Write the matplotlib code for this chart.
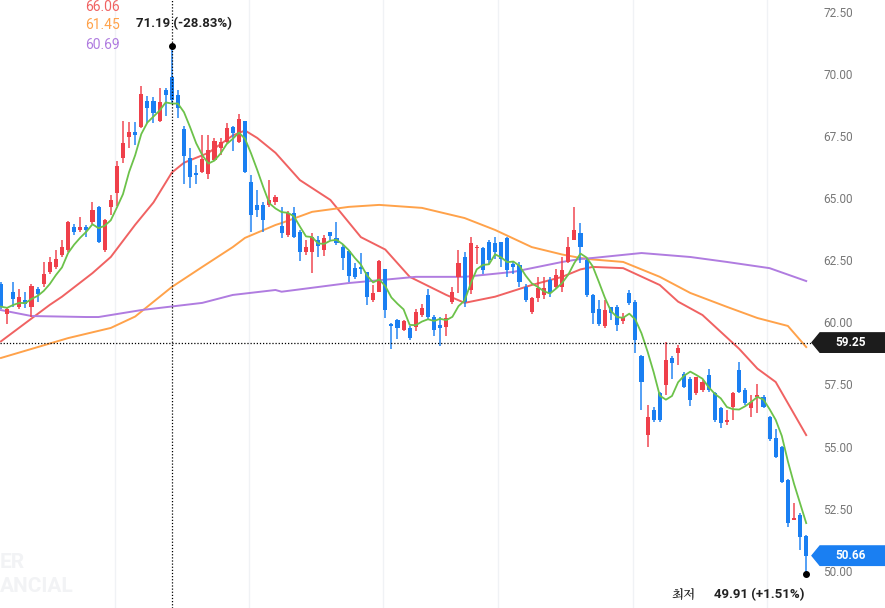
import matplotlib
matplotlib.use("Agg")
import matplotlib.pyplot as plt
from matplotlib import font_manager as fm
import numpy as np
import pandas as pd

plt.rcParams["font.family"] = ["Roboto", "DejaVu Sans"]

def korean_font():
    for f in fm.fontManager.ttflist:
        if "CJK" in f.name and ("KR" in f.name or "SC" in f.name or "JP" in f.name):
            return fm.FontProperties(fname=f.fname, size=9)
    for path in fm.findSystemFonts():
        if "CJK" in path:
            return fm.FontProperties(fname=path, size=9)
    return fm.FontProperties(family="Noto Sans CJK KR", size=9)

opens = [61.6,60.4,61.3,60.7,60.95,60.7,61.4,61.6,62.1,62.3,62.8,63.0,63.9,63.8,63.9,64.1,64.7,62.98,64.7,65.27,66.7,67.55,67.75,
         67.95,69.0,69.0,68.2,69.45,69.97,69.25,67.85,66.7,66.1,66.14,66.05,66.6,67.1,67.35,67.95,67.35,68.2,65.73,64.8,64.8,64.8,
         64.9,63.95,63.6,64.46,63.72,62.9,62.92,63.4,62.98,63.7,63.45,63.1,62.95,62.25,62.3,62.08,60.97,61.3,62.2,
         60.0,60.16,59.76,59.83,59.89,60.36,61.17,60.3,59.95,59.89,60.9,61.9,62.71,61.37,63.05,63.05,63.32,63.25,63.3,63.45,62.4,62.38,61.5,60.5,61.04,61.17,61.77,61.5,61.5,62.51,63.39,63.66,
         62.58,61.17,60.6,59.9,60.7,60.7,60.1,61.24,60.9,58.69,55.52,56.53,57.2,57.54,58.62,58.82,58.0,57.8,57.2,57.34,57.94,57.2,56.6,56.06,56.67,58.13,57.34,56.6,57.07,57.07,56.23,55.4,55.05,53.73,52.1,52.3,51.47]
closes = [60.7,60.6,61.0,61.1,60.8,61.55,61.2,62.0,62.5,62.6,63.1,64.1,63.7,63.9,63.8,64.6,63.3,64.2,65.0,66.37,67.3,67.75,67.6,
          69.26,68.7,68.5,68.95,69.25,69.03,68.7,66.76,65.93,66.0,66.64,67.0,67.37,67.35,67.9,67.7,68.25,66.14,64.38,64.6,64.2,65.0,
          65.1,63.65,64.46,63.52,62.92,63.1,63.52,63.15,63.47,63.55,63.28,62.65,61.94,61.9,62.2,61.1,61.23,62.55,60.56,
          59.9,59.83,60.1,59.42,60.5,60.63,60.3,59.76,59.85,60.23,61.3,62.45,60.9,63.25,63.12,62.18,62.58,62.92,62.6,62.18,62.3,61.71,60.97,61.04,61.44,61.44,61.24,61.98,62.18,63.12,63.79,63.12,
          61.17,60.43,60.0,60.56,60.43,59.96,60.3,60.83,59.36,57.67,56.26,56.13,56.13,58.55,58.42,59.02,57.47,56.93,57.87,57.67,57.34,56.13,55.99,56.13,57.23,57.27,56.8,56.87,57.13,56.67,55.35,54.65,53.64,51.99,52.17,51.4,50.66]
highs = [61.7,60.7,61.7,61.4,61.3,61.6,61.5,62.5,62.7,63.0,63.4,64.15,64.05,64.3,64.0,64.9,64.75,64.25,65.2,66.55,68.2,68.15,68.15,
         69.6,69.2,69.15,69.5,69.5,71.19,69.45,68.0,67.1,66.4,67.6,67.6,67.5,67.5,68.1,68.0,68.47,68.2,66.0,65.4,64.9,65.8,
         65.2,64.7,64.57,64.73,63.8,63.4,63.65,63.55,63.58,63.72,64.1,63.2,63.0,62.47,62.85,62.1,61.57,62.58,62.23,
         60.02,60.2,60.15,59.9,60.6,60.8,61.4,60.35,60.3,60.4,61.5,62.98,62.9,63.5,63.2,63.1,63.4,63.5,63.3,63.5,62.5,62.5,61.6,61.1,61.9,61.9,61.9,62.2,62.7,63.52,64.73,64.06,
         62.65,61.2,60.97,60.97,60.7,60.76,60.43,61.37,60.97,58.75,56.73,56.67,57.27,59.29,58.69,59.15,58.08,57.87,57.87,57.74,58.2,57.27,56.67,56.53,57.27,58.48,57.4,57.13,57.6,57.13,56.3,55.75,55.1,53.77,52.77,52.37,51.5]
lows = [60.6,60.0,60.7,60.6,60.65,60.3,60.9,61.5,62.0,62.2,62.7,62.9,63.6,63.7,63.5,64.05,63.25,62.9,64.4,64.75,66.5,67.1,67.2,
        67.9,68.1,68.1,68.15,68.4,68.9,68.3,65.65,65.5,65.65,66.1,65.85,66.55,66.8,67.3,66.96,67.3,66.1,63.7,64.3,63.7,64.7,
        64.8,63.45,63.5,63.45,62.55,62.8,62.07,62.7,62.73,63.4,63.2,62.18,61.7,61.8,62.0,60.76,60.9,61.27,60.23,
        59.0,59.4,59.7,59.35,59.7,60.3,60.2,59.5,59.1,59.5,60.8,61.24,60.7,61.2,62.4,62.0,62.4,62.6,62.3,61.9,62.0,61.5,60.9,60.4,60.9,61.0,61.1,61.4,61.3,62.45,63.39,62.45,
        61.1,60.0,59.93,59.83,60.16,59.7,60.0,60.76,58.82,56.53,55.05,56.06,56.06,57.13,57.8,58.35,57.4,56.69,57.13,57.27,57.27,56.06,55.79,55.93,56.13,57.2,56.73,56.26,56.4,56.6,55.3,54.6,53.6,51.83,52.1,50.89,49.91]

ma20_idx = [0,8,10,15,18,22,25,28,30,34,38,40,42,45,49,54,59,63,67,73,76,81,87,92,95,97,102,108,111,115,121,124,127,132]
ma20_val = [59.3,60.77,61.1,62.05,62.7,64.0,64.9,66.1,66.5,66.9,67.6,67.8,67.5,66.9,65.8,65.0,63.5,63.0,61.9,61.17,60.85,61.1,61.57,61.9,62.2,62.3,62.25,61.57,60.9,60.36,59.0,58.2,57.66,55.52]
ma60_idx = [0,11,18,22,28,33,38,40,45,46,51,57,62,69,76,81,87,92,95,97,102,108,113,119,124,129,132]
ma60_val = [58.63,59.43,59.84,60.3,61.49,62.3,63.1,63.47,63.99,64.07,64.52,64.72,64.8,64.68,64.27,63.79,63.1,62.8,62.66,62.6,62.5,61.9,61.25,60.69,60.24,59.92,59.07]
ma120_idx = [0,5,14,16,19,23,33,38,45,46,57,68,76,84,92,95,97,105,113,119,126,132]
ma120_val = [60.56,60.32,60.28,60.28,60.4,60.56,60.85,61.17,61.37,61.3,61.65,61.9,61.9,62.1,62.5,62.62,62.66,62.86,62.7,62.5,62.25,61.73]

ytick_vals = [50.0,52.5,55.0,57.5,60.0,62.5,65.0,67.5,70.0,72.5]
month_idx = [18.7,40.6,62.6,81.5,103.6,125.6]

UP = "#ef3f4a"
DOWN = "#1a7ff2"
Y0, Y1 = 48.55, 73.06

fig = plt.figure(figsize=(8.85, 6.08), dpi=100)
ax = fig.add_axes([0, 0, 812/885, 1])
n = len(closes)
x = np.arange(n)
for i in range(n):
    c = UP if closes[i] >= opens[i] else DOWN
    ax.vlines(x[i], lows[i], highs[i], color=c, lw=1.4, alpha=0.75, zorder=3)
    lo, hi = min(opens[i], closes[i]), max(opens[i], closes[i])
    ax.bar(x[i], max(hi - lo, 0.06), bottom=lo, width=0.68, color=c, zorder=4, linewidth=0)

ma5 = pd.Series(closes).rolling(5, min_periods=1).mean()
ax.plot(x, ma5, color="#6cc24a", lw=1.3, zorder=5)
ax.plot(ma20_idx, ma20_val, color="#f06262", lw=1.4, zorder=2)
ax.plot(ma60_idx, ma60_val, color="#ffa24a", lw=1.4, zorder=2)
ax.plot(ma120_idx, ma120_val, color="#b07ce0", lw=1.4, zorder=2)

for m in month_idx:
    ax.axvline(m, color="#f0f2f5", lw=1, zorder=0)

ax.set_xlim(-0.16, 132.95)
ax.set_ylim(Y0, Y1)
for s in ax.spines.values():
    s.set_visible(False)
ax.set_xticks([])
ax.set_yticks([])

hi_i = int(np.argmax(highs))
ax.axvline(hi_i, color="black", lw=0.9, ls=(0, (1, 1.5)), zorder=6)
ax.axhline(59.25, color="black", lw=0.9, ls=(0, (1, 1.5)), zorder=6)
ax.plot([hi_i], [highs[hi_i]], "o", color="black", ms=4, zorder=7)
lo_i = int(np.argmin(lows))
ax.plot([lo_i], [lows[lo_i]], "o", color="black", ms=4, zorder=7)

fig.text(136/885, 1 - 24/608, "71.19 (-28.83%)", fontsize=9.5, fontweight="bold", color="#222", va="center")
fig.text(672/885, 1 - 595/608, "최저", color="#222", va="center", fontproperties=korean_font())
fig.text(804/885, 1 - 595/608, "49.91 (+1.51%)", fontsize=9.5, fontweight="bold", color="#222", va="center", ha="right")

fig.text(85/885, 1 - 7/608, "66.06", color="#f06262", fontsize=10, va="center")
fig.text(85/885, 1 - 25/608, "61.45", color="#ffa24a", fontsize=10, va="center")
fig.text(85/885, 1 - 45/608, "60.69", color="#b07ce0", fontsize=10, va="center")

fig.text(0, 1 - 563/608, "ER", fontsize=15, fontweight="bold", color="#f2f3f5", va="center")
fig.text(0, 1 - 586/608, "ANCIAL", fontsize=15, fontweight="bold", color="#f2f3f5", va="center")

for v in ytick_vals:
    fig.text(838/885, (v - Y0) / (Y1 - Y0), f"{v:.2f}", fontsize=8.5, color="#777",
             ha="center", va="center")

def tag(val, col):
    yf = (val - Y0) / (Y1 - Y0)
    fig.patches.append(plt.Polygon([[812/885, yf], [820/885, yf + 0.016], [1, yf + 0.016],
                                    [1, yf - 0.016], [820/885, yf - 0.016]],
                                   closed=True, transform=fig.transFigure, color=col, zorder=10))
    fig.text(851/885, yf, f"{val:.2f}", fontsize=8.5, fontweight="bold", color="white",
             ha="center", va="center", zorder=11)

tag(59.25, "#1c1c1c")
tag(50.66, "#1a7ff2")

fig.savefig("out.png", dpi=100)
